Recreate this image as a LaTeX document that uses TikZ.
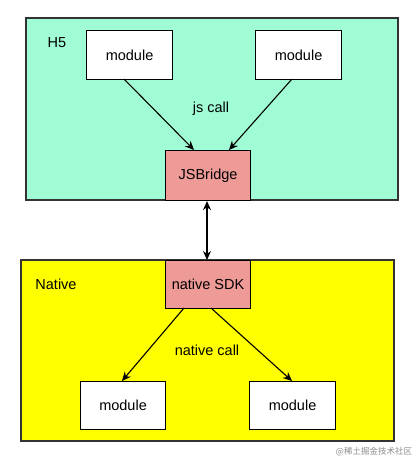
\documentclass[tikz,border=0pt]{standalone}
\usepackage{fontspec}
\setmainfont{Liberation Sans}
\newfontfamily\cjkfont{Noto Sans CJK SC}
\usetikzlibrary{arrows.meta}
\definecolor{mint}{HTML}{9FFCD4}
\definecolor{bridge}{HTML}{EE9B98}
\definecolor{yel}{HTML}{FFFF00}
\begin{document}
\begin{tikzpicture}[x=1pt,y=-1pt,
  box/.style={draw=black, line width=1.1pt, anchor=north west, inner sep=0pt, font=\fontsize{14.5}{16}\selectfont},
  region/.style={draw=black!80, line width=1.1pt},
  tip/.style={Stealth[length=9pt,width=8pt]},
  arr/.style={line width=1.1pt, -{Stealth[length=9pt,width=8pt]}},
  lbl/.style={font=\fontsize{14.5}{16}\selectfont}]
\useasboundingbox (0,0) rectangle (417,463);
\fill[white] (0,0) rectangle (417,463);
% regions
\filldraw[region, fill=mint] (26,18) rectangle (398,200);
\filldraw[region, fill=yel] (21,260) rectangle (394,441);
\node[lbl] (h5) at (57,43) {H5};
\node[lbl] (nat) at (56,284) {Native};
% boxes
\node[box, fill=white, minimum width=86pt, minimum height=49pt] (m1) at (86,30) {module};
\node[box, fill=white, minimum width=86pt, minimum height=49pt] (m2) at (255,30) {module};
\node[box, fill=bridge, minimum width=85pt, minimum height=50pt] (jsb) at (165,150) {JSBridge};
\node[box, fill=bridge, minimum width=85pt, minimum height=48pt] (sdk) at (165,260) {native SDK};
\node[box, fill=white, minimum width=85pt, minimum height=48pt] (m3) at (80,381) {module};
\node[box, fill=white, minimum width=86pt, minimum height=48pt] (m4) at (249,381) {module};
\node[lbl] (js) at (211,109) {js call};
\node[lbl] (nc) at (207,350) {native call};
% connectors
\coordinate (a1) at (124,79);
\coordinate (a2) at (194,150);
\coordinate (b1) at (292,79);
\coordinate (b2) at (229,150);
\draw[arr] (a1) -- (a2);
\draw[arr] (b1) -- (b2);
\draw[line width=1.1pt, {Stealth[length=9pt,width=8pt]}-{Stealth[length=9pt,width=8pt]}] (jsb.south -| 207,0) -- (sdk.north -| 207,0);
\coordinate (c1) at (184,308);
\coordinate (c2) at (122,381);
\coordinate (d1) at (211,308);
\coordinate (d2) at (292,381);
\draw[arr] (c1) -- (c2);
\draw[arr] (d1) -- (d2);
\node[text=black!45, font=\cjkfont\fontsize{8.5}{9}\selectfont] (wm) at (374,452) {@稀土掘金技术社区};
\end{tikzpicture}
\end{document}
